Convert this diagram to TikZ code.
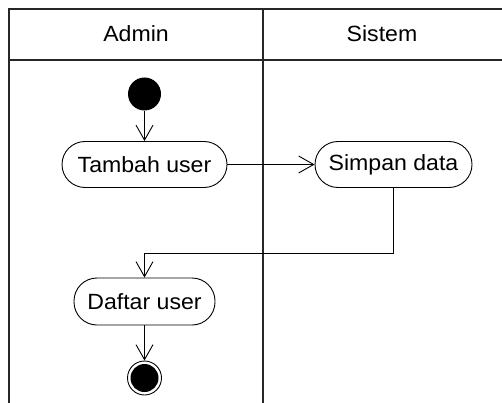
\documentclass[tikz,border=0pt]{standalone}
\usepackage{fontspec}
\setmainfont[FakeStretch=1.05]{Liberation Sans}
\usetikzlibrary{arrows.meta}
\begin{document}
\begin{tikzpicture}[x=1pt,y=-1pt,
  lane/.style={line width=1.1pt,draw=black!85},
  action/.style={draw,line width=0.9pt,rectangle,rounded corners=23pt,
    minimum height=46pt,inner sep=0pt,font=\fontsize{22}{26}\selectfont},
  lanetitle/.style={font=\fontsize{22}{26}\selectfont,inner sep=0pt},
  flow/.style={line width=0.9pt,-{Straight Barb[length=15pt,width=17pt]}},
]
\useasboundingbox (0,0) rectangle (502,403);

% swimlane frame
\draw[lane] (502,9) -- (9,9) -- (9,403);
\draw[lane] (9,60) -- (502,60);
\draw[lane] (263,9) -- (263,403);

\node[lanetitle] (admin) at (136,34) {Admin};
\node[lanetitle] (sistem) at (382,34) {Sistem};

% start and end states
\node[circle,fill=black,minimum size=33pt,inner sep=0pt] (start) at (144.5,94) {};
\node[circle,draw,line width=0.9pt,minimum size=34pt,inner sep=0pt] (end) at (144.5,378) {};
\node[circle,fill=black,minimum size=28pt,inner sep=0pt] (endin) at (144.5,378) {};

% actions
\node[action,minimum width=165pt] (tambah) at (144.5,164.5) {Tambah user};
\node[action,minimum width=157pt] (simpan) at (393.5,164.5) {Simpan data};
\node[action,minimum width=141pt,minimum height=47pt] (daftar) at (144.5,301.5) {Daftar user};

\coordinate (turn) at (0,253);

% control flow
\draw[flow] (start) -- (tambah);
\draw[flow] (tambah) -- (simpan);
\draw[flow] (simpan.south) -- (simpan.south |- turn) -- (daftar.north |- turn) -- (daftar.north);
\draw[flow] (daftar) -- (end);
\end{tikzpicture}
\end{document}
